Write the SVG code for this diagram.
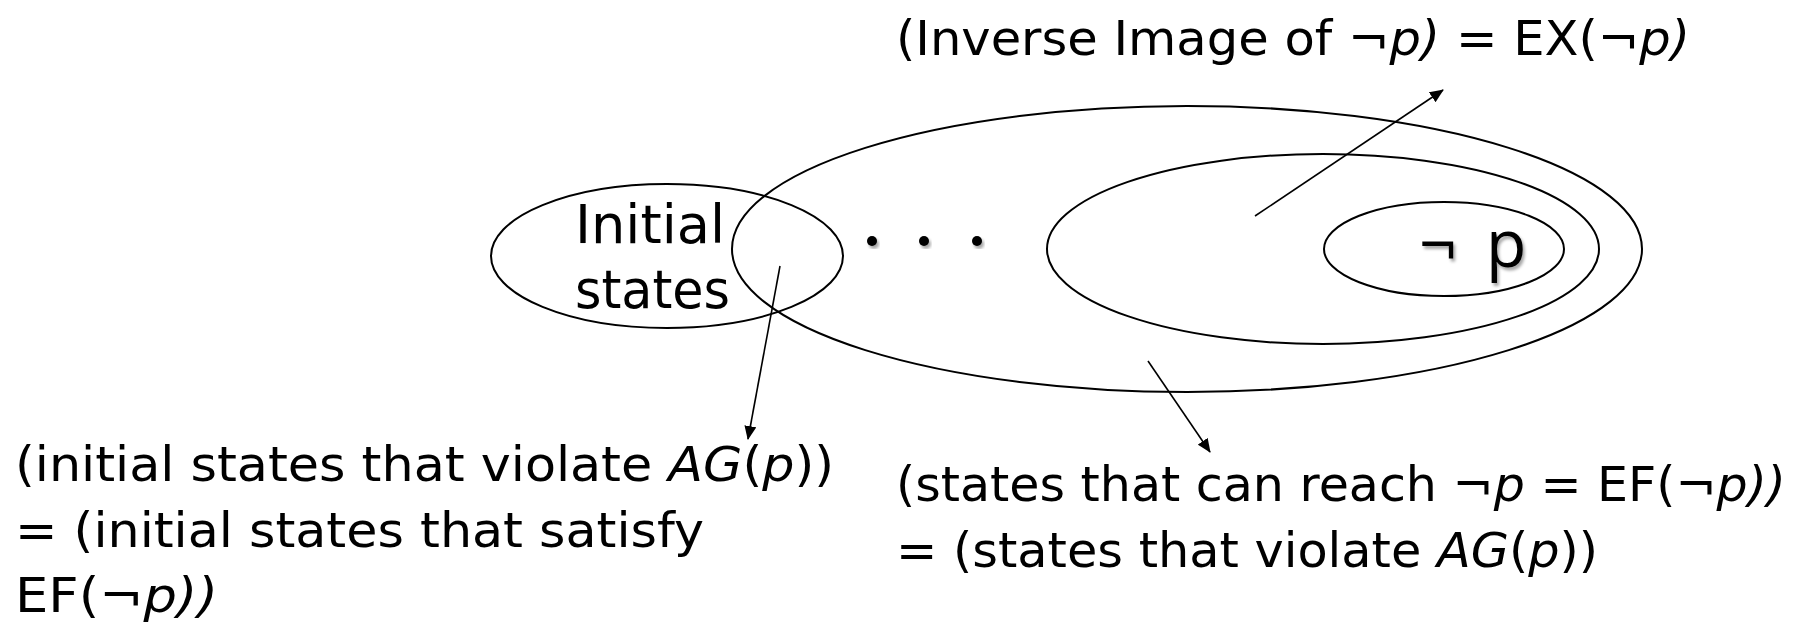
<svg xmlns="http://www.w3.org/2000/svg" width="1803" height="629" viewBox="0 0 1803 629">
<style>
  .set { fill: none; stroke: #000; stroke-width: 2; }
  .conn { stroke: #000; stroke-width: 1.6; fill: none; marker-end: url(#ah); }
  .lbl { font-family: "DejaVu Sans", "Liberation Sans", sans-serif; font-size: 48px; fill: #000; }
  .big { font-family: "DejaVu Sans", "Liberation Sans", sans-serif; font-size: 53px; fill: #000; }
  .neg { font-family: "Open Sans", "Liberation Sans", sans-serif; font-size: 66px; fill: #000; filter: url(#sh); }
  .i { font-style: italic; }
  .dot { fill: #000; filter: url(#sh); }
</style>
<defs>
  <marker id="ah" markerWidth="14" markerHeight="12" refX="13" refY="6" orient="auto" markerUnits="userSpaceOnUse">
    <path d="M0,0 L14,6 L0,12 Z" fill="#000"/>
  </marker>
  <filter id="sh" x="-20%" y="-20%" width="150%" height="150%">
    <feDropShadow dx="2" dy="3" stdDeviation="1.5" flood-color="#000" flood-opacity="0.35"/>
  </filter>
</defs>
<rect width="1803" height="629" fill="#fff"/>

<g id="initial">
  <ellipse class="set" cx="667" cy="256" rx="176" ry="72"/>
  <text class="big" x="575" y="243" textLength="150" lengthAdjust="spacingAndGlyphs">Initial</text>
  <text class="big" x="575" y="308" textLength="155" lengthAdjust="spacingAndGlyphs">states</text>
</g>

<g id="ef">
  <ellipse class="set" cx="1187" cy="249" rx="455" ry="143"/>
</g>

<g id="ex">
  <ellipse class="set" cx="1323" cy="249" rx="276" ry="95"/>
</g>

<g id="notp">
  <ellipse class="set" cx="1444" cy="249" rx="120" ry="47"/>
  <text class="neg" y="267"><tspan x="1419">¬</tspan><tspan x="1486">p</tspan></text>
</g>

<g id="dots">
  <circle class="dot" cx="872" cy="241" r="5"/>
  <circle class="dot" cx="924" cy="241" r="5"/>
  <circle class="dot" cx="977" cy="241" r="5"/>
</g>

<g id="connectors">
  <line class="conn" x1="1255" y1="216" x2="1443" y2="90"/>
  <line class="conn" x1="780" y1="266" x2="748" y2="439"/>
  <line class="conn" x1="1148" y1="361" x2="1210" y2="452"/>
</g>

<g id="label-ex">
  <text class="lbl" x="896" y="55" textLength="794" lengthAdjust="spacingAndGlyphs">(Inverse Image of ¬<tspan class="i">p)</tspan> = EX(¬<tspan class="i">p)</tspan></text>
</g>

<g id="label-initial">
  <text class="lbl" x="15" y="481" textLength="819" lengthAdjust="spacingAndGlyphs">(initial states that violate <tspan class="i">AG</tspan>(<tspan class="i">p</tspan>))</text>
  <text class="lbl" x="15" y="547" textLength="689" lengthAdjust="spacingAndGlyphs">= (initial states that satisfy</text>
  <text class="lbl" x="15" y="612" textLength="203" lengthAdjust="spacingAndGlyphs">EF(¬<tspan class="i">p))</tspan></text>
</g>

<g id="label-ef">
  <text class="lbl" x="896" y="501" textLength="890" lengthAdjust="spacingAndGlyphs">(states that can reach ¬<tspan class="i">p</tspan> = EF(¬<tspan class="i">p))</tspan></text>
  <text class="lbl" x="896" y="567" textLength="702" lengthAdjust="spacingAndGlyphs">= (states that violate <tspan class="i">AG</tspan>(<tspan class="i">p</tspan>))</text>
</g>
</svg>
